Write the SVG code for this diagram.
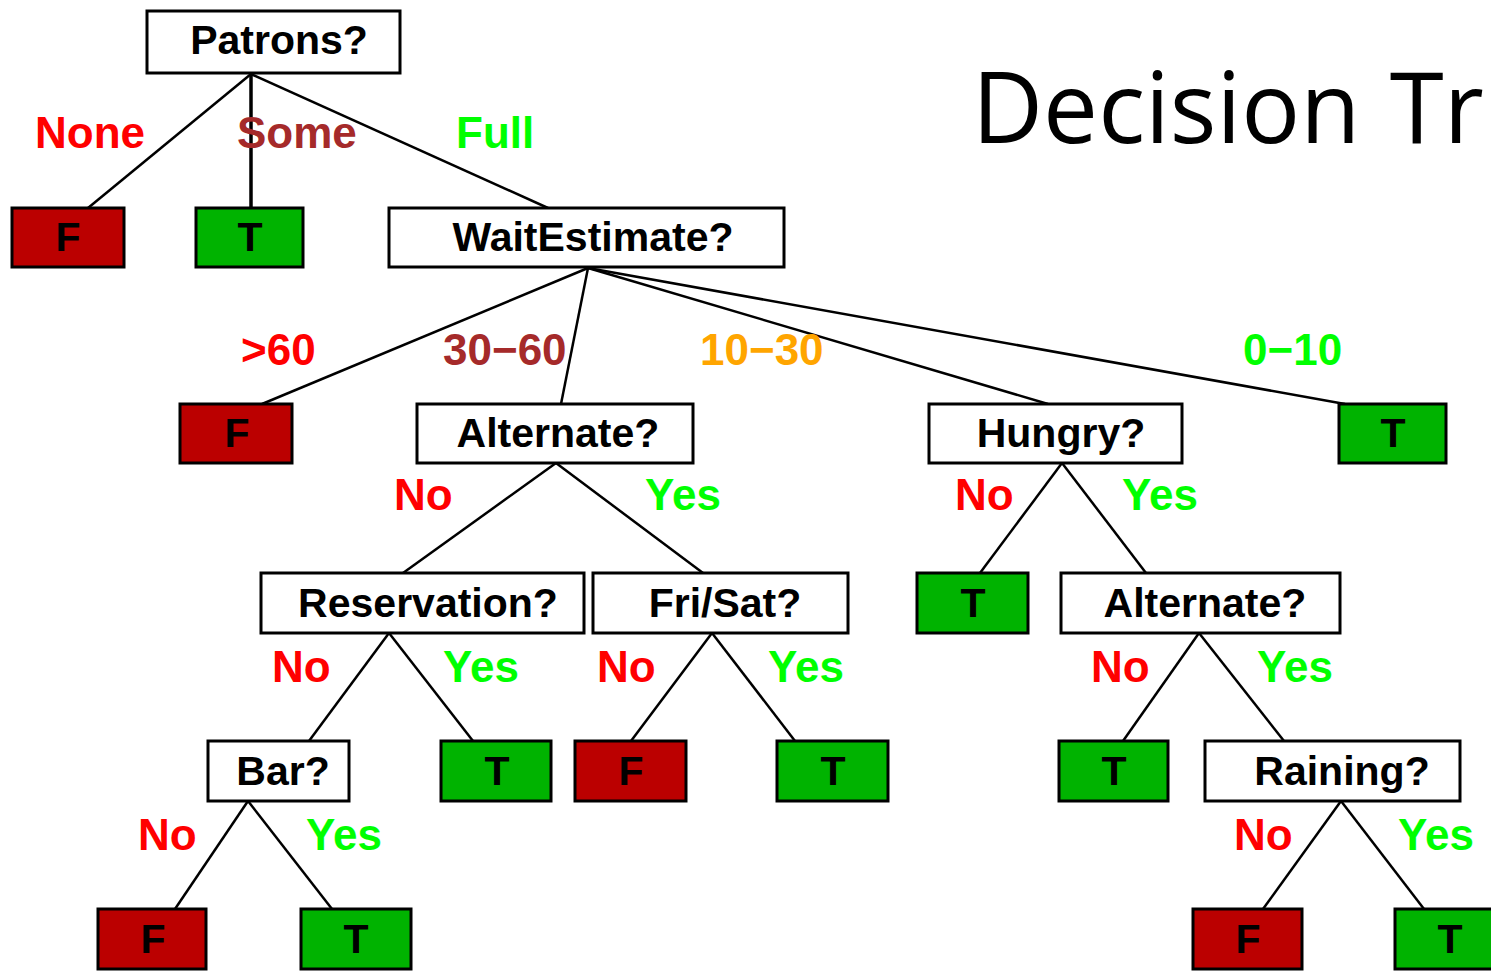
<svg xmlns="http://www.w3.org/2000/svg" width="1491" height="971" viewBox="0 0 1491 971">
<style>
.q{fill:#fff;stroke:#000;stroke-width:3}
.f{fill:#bb0000;stroke:#000;stroke-width:3}
.t{fill:#00b300;stroke:#000;stroke-width:3}
.nt{font-family:"Liberation Sans",Arial,sans-serif;font-weight:bold;font-size:41px;fill:#000;text-anchor:middle}
.lb{font-family:"Liberation Sans",Arial,sans-serif;font-weight:bold;font-size:44px}
.red{fill:#ff0000}.brn{fill:#a52a2a}.grn{fill:#00ff00}.org{fill:#ffa500}
#edges line{stroke:#000;stroke-width:2.5}
.title{font-family:"Open Sans","Noto Sans",sans-serif;font-size:98px;fill:#000}
</style>
<rect width="1491" height="971" fill="#fff"/>
<text class="title" x="972" y="143">Decision <tspan dx="4">Tr</tspan></text>
<g id="edges">
<line x1="251" y1="74" x2="88" y2="208"/>
<line x1="251" y1="74" x2="251" y2="208" style="stroke-width:3.5"/>
<line x1="251" y1="74" x2="548" y2="208"/>
<line x1="588" y1="268" x2="262" y2="404"/>
<line x1="588" y1="268" x2="561" y2="404"/>
<line x1="588" y1="268" x2="1048" y2="404"/>
<line x1="588" y1="268" x2="1345" y2="404"/>
<line x1="556" y1="463" x2="403" y2="573"/>
<line x1="556" y1="463" x2="703" y2="573"/>
<line x1="1062" y1="463" x2="980" y2="573"/>
<line x1="1062" y1="463" x2="1146" y2="573"/>
<line x1="389" y1="633" x2="309" y2="741"/>
<line x1="389" y1="633" x2="473" y2="741"/>
<line x1="712" y1="633" x2="631" y2="741"/>
<line x1="712" y1="633" x2="795" y2="741"/>
<line x1="1199" y1="633" x2="1123" y2="741"/>
<line x1="1199" y1="633" x2="1284" y2="741"/>
<line x1="248" y1="801" x2="175" y2="909"/>
<line x1="248" y1="801" x2="332" y2="909"/>
<line x1="1341" y1="801" x2="1263" y2="909"/>
<line x1="1341" y1="801" x2="1424" y2="909"/>
</g>
<g id="labels">
<text class="lb red" x="35" y="148">None</text>
<text class="lb brn" x="237" y="148">Some</text>
<text class="lb grn" x="456" y="148">Full</text>
<text class="lb red" x="241" y="365">&gt;60</text>
<text class="lb brn" x="443" y="365">30−60</text>
<text class="lb org" x="700" y="365">10−30</text>
<text class="lb grn" x="1243" y="365">0−10</text>
<text class="lb red" x="394" y="510">No</text>
<text class="lb grn" x="645" y="510">Yes</text>
<text class="lb red" x="955" y="510">No</text>
<text class="lb grn" x="1122" y="510">Yes</text>
<text class="lb red" x="272" y="682">No</text>
<text class="lb grn" x="443" y="682">Yes</text>
<text class="lb red" x="597" y="682">No</text>
<text class="lb grn" x="768" y="682">Yes</text>
<text class="lb red" x="1091" y="682">No</text>
<text class="lb grn" x="1257" y="682">Yes</text>
<text class="lb red" x="138" y="850">No</text>
<text class="lb grn" x="306" y="850">Yes</text>
<text class="lb red" x="1234" y="850">No</text>
<text class="lb grn" x="1398" y="850">Yes</text>
</g>
<g id="patrons"><rect class="q" x="147" y="11" width="253" height="62"/><text class="nt" x="279" y="54">Patrons?</text></g>
<g id="leaf-none"><rect class="f" x="12" y="208" width="112" height="59"/><text class="nt" x="68" y="251">F</text></g>
<g id="leaf-some"><rect class="t" x="196" y="208" width="107" height="59"/><text class="nt" x="250" y="251">T</text></g>
<g id="wait"><rect class="q" x="389" y="208" width="395" height="59"/><text class="nt" x="593" y="251">WaitEstimate?</text></g>
<g id="leaf-60"><rect class="f" x="180" y="404" width="112" height="59"/><text class="nt" x="237" y="447">F</text></g>
<g id="alt1"><rect class="q" x="417" y="404" width="276" height="59"/><text class="nt" x="558" y="447">Alternate?</text></g>
<g id="hungry"><rect class="q" x="929" y="404" width="253" height="59"/><text class="nt" x="1061" y="447">Hungry?</text></g>
<g id="leaf-010"><rect class="t" x="1339" y="404" width="107" height="59"/><text class="nt" x="1393" y="447">T</text></g>
<g id="reservation"><rect class="q" x="261" y="573" width="323" height="60"/><text class="nt" x="428" y="617">Reservation?</text></g>
<g id="frisat"><rect class="q" x="593" y="573" width="255" height="60"/><text class="nt" x="725" y="617">Fri/Sat?</text></g>
<g id="leaf-hno"><rect class="t" x="917" y="573" width="111" height="60"/><text class="nt" x="973" y="617">T</text></g>
<g id="alt2"><rect class="q" x="1061" y="573" width="279" height="60"/><text class="nt" x="1205" y="617">Alternate?</text></g>
<g id="bar"><rect class="q" x="208" y="741" width="141" height="60"/><text class="nt" x="283" y="785">Bar?</text></g>
<g id="leaf-resyes"><rect class="t" x="441" y="741" width="110" height="60"/><text class="nt" x="497" y="785">T</text></g>
<g id="leaf-frino"><rect class="f" x="575" y="741" width="111" height="60"/><text class="nt" x="631" y="785">F</text></g>
<g id="leaf-friyes"><rect class="t" x="777" y="741" width="111" height="60"/><text class="nt" x="833" y="785">T</text></g>
<g id="leaf-altno"><rect class="t" x="1059" y="741" width="109" height="60"/><text class="nt" x="1114" y="785">T</text></g>
<g id="raining"><rect class="q" x="1205" y="741" width="255" height="60"/><text class="nt" x="1342" y="785">Raining?</text></g>
<g id="leaf-barno"><rect class="f" x="98" y="909" width="108" height="60"/><text class="nt" x="153" y="953">F</text></g>
<g id="leaf-baryes"><rect class="t" x="301" y="909" width="110" height="60"/><text class="nt" x="356" y="953">T</text></g>
<g id="leaf-rainno"><rect class="f" x="1193" y="909" width="109" height="60"/><text class="nt" x="1248" y="953">F</text></g>
<g id="leaf-rainyes"><rect class="t" x="1395" y="909" width="110" height="60"/><text class="nt" x="1450" y="953">T</text></g>
</svg>
